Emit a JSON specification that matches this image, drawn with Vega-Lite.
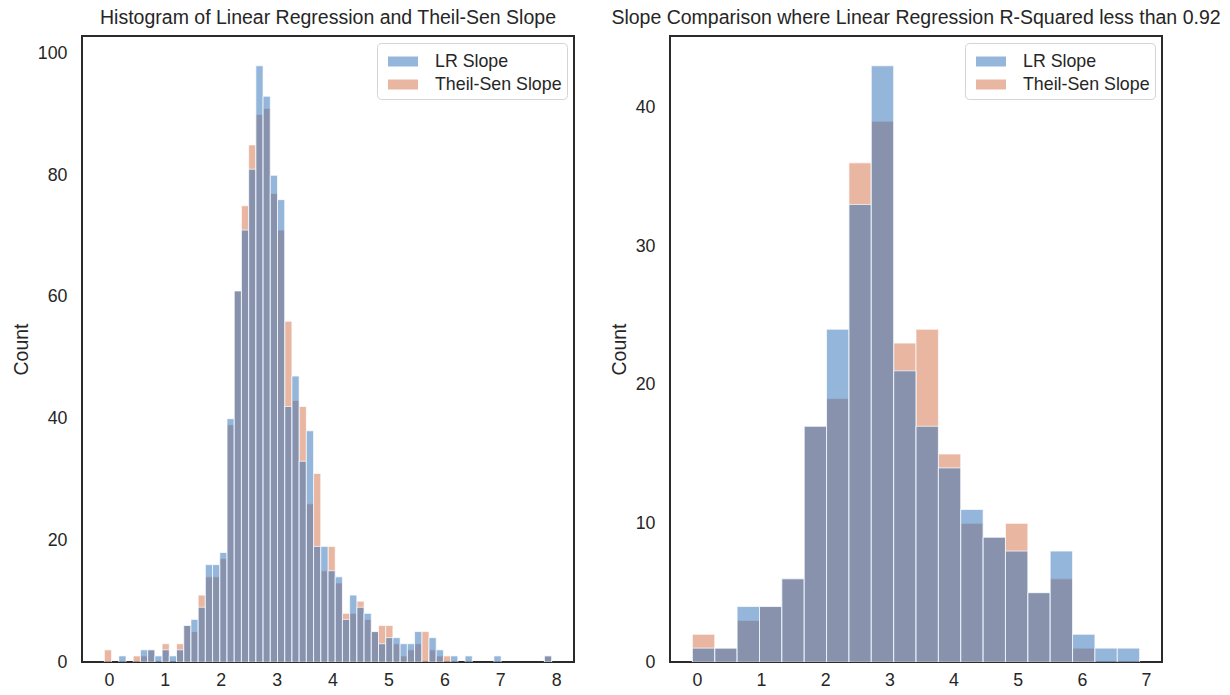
{
  "$schema": "https://vega.github.io/schema/vega-lite/v6.json",
  "padding": {"left": 10, "top": 6, "right": 5, "bottom": 5},
  "background": "white",
  "config": {
    "font": "Liberation Sans",
    "view": {"stroke": "#2b2b2b", "strokeWidth": 2},
    "axis": {"grid": false, "ticks": false, "domain": false, "labelFont": "Liberation Sans", "titleFont": "Liberation Sans", "labelFontSize": 17.8, "labelColor": "#262626", "titleFontSize": 19.5, "titleFontWeight": "normal", "titleColor": "#262626"},
    "title": {"font": "Liberation Sans", "fontSize": 19.5, "fontWeight": "normal", "color": "#262626", "offset": 8},
    "legend": {"orient": "top-right", "offset": 7, "title": null, "labelFont": "Liberation Sans", "labelFontSize": 17.8, "labelColor": "#262626", "symbolType": "M-0.556,-0.37H1.667V0.37H-0.556Z", "symbolSize": 729, "symbolOpacity": 0.5, "symbolStrokeWidth": 0, "strokeColor": "#d4d4d4", "fillColor": "white", "cornerRadius": 4, "padding": 5, "rowPadding": 0, "labelOffset": 26}
  },
  "datasets": {
    "left": [
      {"lo": -0.080, "hi": 0.049, "series": "Theil-Sen Slope", "count": 2},
      {"lo": 0.436, "hi": 0.565, "series": "Theil-Sen Slope", "count": 1},
      {"lo": 0.565, "hi": 0.694, "series": "Theil-Sen Slope", "count": 1},
      {"lo": 0.694, "hi": 0.823, "series": "Theil-Sen Slope", "count": 2},
      {"lo": 0.952, "hi": 1.081, "series": "Theil-Sen Slope", "count": 3},
      {"lo": 1.210, "hi": 1.339, "series": "Theil-Sen Slope", "count": 3},
      {"lo": 1.339, "hi": 1.468, "series": "Theil-Sen Slope", "count": 6},
      {"lo": 1.468, "hi": 1.597, "series": "Theil-Sen Slope", "count": 5},
      {"lo": 1.597, "hi": 1.726, "series": "Theil-Sen Slope", "count": 11},
      {"lo": 1.726, "hi": 1.855, "series": "Theil-Sen Slope", "count": 14},
      {"lo": 1.855, "hi": 1.984, "series": "Theil-Sen Slope", "count": 14},
      {"lo": 1.984, "hi": 2.113, "series": "Theil-Sen Slope", "count": 17},
      {"lo": 2.113, "hi": 2.242, "series": "Theil-Sen Slope", "count": 39},
      {"lo": 2.242, "hi": 2.371, "series": "Theil-Sen Slope", "count": 61},
      {"lo": 2.371, "hi": 2.500, "series": "Theil-Sen Slope", "count": 75},
      {"lo": 2.500, "hi": 2.629, "series": "Theil-Sen Slope", "count": 85},
      {"lo": 2.629, "hi": 2.758, "series": "Theil-Sen Slope", "count": 90},
      {"lo": 2.758, "hi": 2.887, "series": "Theil-Sen Slope", "count": 91},
      {"lo": 2.887, "hi": 3.016, "series": "Theil-Sen Slope", "count": 77},
      {"lo": 3.016, "hi": 3.145, "series": "Theil-Sen Slope", "count": 71},
      {"lo": 3.145, "hi": 3.274, "series": "Theil-Sen Slope", "count": 56},
      {"lo": 3.274, "hi": 3.403, "series": "Theil-Sen Slope", "count": 43},
      {"lo": 3.403, "hi": 3.532, "series": "Theil-Sen Slope", "count": 42},
      {"lo": 3.532, "hi": 3.661, "series": "Theil-Sen Slope", "count": 26},
      {"lo": 3.661, "hi": 3.790, "series": "Theil-Sen Slope", "count": 31},
      {"lo": 3.790, "hi": 3.919, "series": "Theil-Sen Slope", "count": 15},
      {"lo": 3.919, "hi": 4.048, "series": "Theil-Sen Slope", "count": 19},
      {"lo": 4.048, "hi": 4.177, "series": "Theil-Sen Slope", "count": 13},
      {"lo": 4.177, "hi": 4.306, "series": "Theil-Sen Slope", "count": 8},
      {"lo": 4.306, "hi": 4.435, "series": "Theil-Sen Slope", "count": 8},
      {"lo": 4.435, "hi": 4.564, "series": "Theil-Sen Slope", "count": 10},
      {"lo": 4.564, "hi": 4.693, "series": "Theil-Sen Slope", "count": 7},
      {"lo": 4.693, "hi": 4.822, "series": "Theil-Sen Slope", "count": 5},
      {"lo": 4.822, "hi": 4.951, "series": "Theil-Sen Slope", "count": 6},
      {"lo": 4.951, "hi": 5.080, "series": "Theil-Sen Slope", "count": 6},
      {"lo": 5.080, "hi": 5.209, "series": "Theil-Sen Slope", "count": 3},
      {"lo": 5.209, "hi": 5.338, "series": "Theil-Sen Slope", "count": 1},
      {"lo": 5.338, "hi": 5.467, "series": "Theil-Sen Slope", "count": 2},
      {"lo": 5.467, "hi": 5.596, "series": "Theil-Sen Slope", "count": 3},
      {"lo": 5.596, "hi": 5.725, "series": "Theil-Sen Slope", "count": 5},
      {"lo": 5.725, "hi": 5.854, "series": "Theil-Sen Slope", "count": 2},
      {"lo": 5.854, "hi": 5.983, "series": "Theil-Sen Slope", "count": 1},
      {"lo": 5.983, "hi": 6.112, "series": "Theil-Sen Slope", "count": 1},
      {"lo": 7.789, "hi": 7.918, "series": "Theil-Sen Slope", "count": 1},
      {"lo": 0.178, "hi": 0.307, "series": "LR Slope", "count": 1},
      {"lo": 0.565, "hi": 0.694, "series": "LR Slope", "count": 2},
      {"lo": 0.694, "hi": 0.823, "series": "LR Slope", "count": 2},
      {"lo": 0.823, "hi": 0.952, "series": "LR Slope", "count": 1},
      {"lo": 0.952, "hi": 1.081, "series": "LR Slope", "count": 2},
      {"lo": 1.081, "hi": 1.210, "series": "LR Slope", "count": 1},
      {"lo": 1.210, "hi": 1.339, "series": "LR Slope", "count": 2},
      {"lo": 1.339, "hi": 1.468, "series": "LR Slope", "count": 6},
      {"lo": 1.468, "hi": 1.597, "series": "LR Slope", "count": 7},
      {"lo": 1.597, "hi": 1.726, "series": "LR Slope", "count": 9},
      {"lo": 1.726, "hi": 1.855, "series": "LR Slope", "count": 16},
      {"lo": 1.855, "hi": 1.984, "series": "LR Slope", "count": 16},
      {"lo": 1.984, "hi": 2.113, "series": "LR Slope", "count": 18},
      {"lo": 2.113, "hi": 2.242, "series": "LR Slope", "count": 40},
      {"lo": 2.242, "hi": 2.371, "series": "LR Slope", "count": 61},
      {"lo": 2.371, "hi": 2.500, "series": "LR Slope", "count": 71},
      {"lo": 2.500, "hi": 2.629, "series": "LR Slope", "count": 81},
      {"lo": 2.629, "hi": 2.758, "series": "LR Slope", "count": 98},
      {"lo": 2.758, "hi": 2.887, "series": "LR Slope", "count": 93},
      {"lo": 2.887, "hi": 3.016, "series": "LR Slope", "count": 80},
      {"lo": 3.016, "hi": 3.145, "series": "LR Slope", "count": 76},
      {"lo": 3.145, "hi": 3.274, "series": "LR Slope", "count": 42},
      {"lo": 3.274, "hi": 3.403, "series": "LR Slope", "count": 47},
      {"lo": 3.403, "hi": 3.532, "series": "LR Slope", "count": 33},
      {"lo": 3.532, "hi": 3.661, "series": "LR Slope", "count": 38},
      {"lo": 3.661, "hi": 3.790, "series": "LR Slope", "count": 19},
      {"lo": 3.790, "hi": 3.919, "series": "LR Slope", "count": 19},
      {"lo": 3.919, "hi": 4.048, "series": "LR Slope", "count": 15},
      {"lo": 4.048, "hi": 4.177, "series": "LR Slope", "count": 14},
      {"lo": 4.177, "hi": 4.306, "series": "LR Slope", "count": 7},
      {"lo": 4.306, "hi": 4.435, "series": "LR Slope", "count": 11},
      {"lo": 4.435, "hi": 4.564, "series": "LR Slope", "count": 9},
      {"lo": 4.564, "hi": 4.693, "series": "LR Slope", "count": 8},
      {"lo": 4.693, "hi": 4.822, "series": "LR Slope", "count": 5},
      {"lo": 4.822, "hi": 4.951, "series": "LR Slope", "count": 3},
      {"lo": 4.951, "hi": 5.080, "series": "LR Slope", "count": 4},
      {"lo": 5.080, "hi": 5.209, "series": "LR Slope", "count": 4},
      {"lo": 5.209, "hi": 5.338, "series": "LR Slope", "count": 3},
      {"lo": 5.338, "hi": 5.467, "series": "LR Slope", "count": 3},
      {"lo": 5.467, "hi": 5.596, "series": "LR Slope", "count": 5},
      {"lo": 5.725, "hi": 5.854, "series": "LR Slope", "count": 4},
      {"lo": 5.854, "hi": 5.983, "series": "LR Slope", "count": 2},
      {"lo": 6.112, "hi": 6.241, "series": "LR Slope", "count": 1},
      {"lo": 6.370, "hi": 6.499, "series": "LR Slope", "count": 1},
      {"lo": 6.886, "hi": 7.015, "series": "LR Slope", "count": 1},
      {"lo": 7.789, "hi": 7.918, "series": "LR Slope", "count": 1}
    ],
    "right": [
      {"lo": -0.070, "hi": 0.279, "series": "Theil-Sen Slope", "count": 2},
      {"lo": 0.279, "hi": 0.627, "series": "Theil-Sen Slope", "count": 1},
      {"lo": 0.627, "hi": 0.976, "series": "Theil-Sen Slope", "count": 3},
      {"lo": 0.976, "hi": 1.324, "series": "Theil-Sen Slope", "count": 4},
      {"lo": 1.324, "hi": 1.673, "series": "Theil-Sen Slope", "count": 6},
      {"lo": 1.673, "hi": 2.021, "series": "Theil-Sen Slope", "count": 17},
      {"lo": 2.021, "hi": 2.370, "series": "Theil-Sen Slope", "count": 19},
      {"lo": 2.370, "hi": 2.718, "series": "Theil-Sen Slope", "count": 36},
      {"lo": 2.718, "hi": 3.067, "series": "Theil-Sen Slope", "count": 39},
      {"lo": 3.067, "hi": 3.415, "series": "Theil-Sen Slope", "count": 23},
      {"lo": 3.415, "hi": 3.764, "series": "Theil-Sen Slope", "count": 24},
      {"lo": 3.764, "hi": 4.112, "series": "Theil-Sen Slope", "count": 15},
      {"lo": 4.112, "hi": 4.461, "series": "Theil-Sen Slope", "count": 10},
      {"lo": 4.461, "hi": 4.809, "series": "Theil-Sen Slope", "count": 9},
      {"lo": 4.809, "hi": 5.158, "series": "Theil-Sen Slope", "count": 10},
      {"lo": 5.158, "hi": 5.506, "series": "Theil-Sen Slope", "count": 5},
      {"lo": 5.506, "hi": 5.855, "series": "Theil-Sen Slope", "count": 6},
      {"lo": 5.855, "hi": 6.203, "series": "Theil-Sen Slope", "count": 1},
      {"lo": -0.070, "hi": 0.279, "series": "LR Slope", "count": 1},
      {"lo": 0.279, "hi": 0.627, "series": "LR Slope", "count": 1},
      {"lo": 0.627, "hi": 0.976, "series": "LR Slope", "count": 4},
      {"lo": 0.976, "hi": 1.324, "series": "LR Slope", "count": 4},
      {"lo": 1.324, "hi": 1.673, "series": "LR Slope", "count": 6},
      {"lo": 1.673, "hi": 2.021, "series": "LR Slope", "count": 17},
      {"lo": 2.021, "hi": 2.370, "series": "LR Slope", "count": 24},
      {"lo": 2.370, "hi": 2.718, "series": "LR Slope", "count": 33},
      {"lo": 2.718, "hi": 3.067, "series": "LR Slope", "count": 43},
      {"lo": 3.067, "hi": 3.415, "series": "LR Slope", "count": 21},
      {"lo": 3.415, "hi": 3.764, "series": "LR Slope", "count": 17},
      {"lo": 3.764, "hi": 4.112, "series": "LR Slope", "count": 14},
      {"lo": 4.112, "hi": 4.461, "series": "LR Slope", "count": 11},
      {"lo": 4.461, "hi": 4.809, "series": "LR Slope", "count": 9},
      {"lo": 4.809, "hi": 5.158, "series": "LR Slope", "count": 8},
      {"lo": 5.158, "hi": 5.506, "series": "LR Slope", "count": 5},
      {"lo": 5.506, "hi": 5.855, "series": "LR Slope", "count": 8},
      {"lo": 5.855, "hi": 6.203, "series": "LR Slope", "count": 2},
      {"lo": 6.203, "hi": 6.552, "series": "LR Slope", "count": 1},
      {"lo": 6.552, "hi": 6.900, "series": "LR Slope", "count": 1}
    ]
  },
  "spacing": 96,
  "bounds": "flush",
  "resolve": {"legend": {"color": "independent"}, "scale": {"color": "independent"}},
  "hconcat": [
    {
      "title": "Histogram of Linear Regression and Theil-Sen Slope",
      "width": 492,
      "height": 626,
      "data": {"name": "left"},
      "mark": {"type": "bar", "fillOpacity": 0.5, "stroke": "white", "strokeWidth": 1, "strokeOpacity": 0.7, "clip": true},
      "encoding": {
        "x": {"field": "lo", "type": "quantitative", "scale": {"domain": [-0.48, 8.318], "nice": false, "zero": false}, "axis": {"values": [0, 1, 2, 3, 4, 5, 6, 7, 8], "title": null, "labelPadding": 9}},
        "x2": {"field": "hi"},
        "y": {"field": "count", "type": "quantitative", "stack": null, "scale": {"domain": [0, 102.9], "nice": false}, "axis": {"values": [0, 20, 40, 60, 80, 100], "title": "Count", "labelPadding": 15, "titlePadding": 6}},
        "y2": {"datum": 0},
        "color": {"field": "series", "type": "nominal", "scale": {"domain": ["LR Slope", "Theil-Sen Slope"], "range": ["#2a6db5", "#d36d45"]}}
      }
    },
    {
      "title": "Slope Comparison where Linear Regression R-Squared less than 0.92",
      "width": 492,
      "height": 626,
      "data": {"name": "right"},
      "mark": {"type": "bar", "fillOpacity": 0.5, "stroke": "white", "strokeWidth": 1, "strokeOpacity": 0.7, "clip": true},
      "encoding": {
        "x": {"field": "lo", "type": "quantitative", "scale": {"domain": [-0.4185, 7.2485], "nice": false, "zero": false}, "axis": {"values": [0, 1, 2, 3, 4, 5, 6, 7], "title": null, "labelPadding": 9}},
        "x2": {"field": "hi"},
        "y": {"field": "count", "type": "quantitative", "stack": null, "scale": {"domain": [0, 45.15], "nice": false}, "axis": {"values": [0, 10, 20, 30, 40], "title": "Count", "labelPadding": 15, "titlePadding": 6}},
        "y2": {"datum": 0},
        "color": {"field": "series", "type": "nominal", "scale": {"domain": ["LR Slope", "Theil-Sen Slope"], "range": ["#2a6db5", "#d36d45"]}}
      }
    }
  ]
}
